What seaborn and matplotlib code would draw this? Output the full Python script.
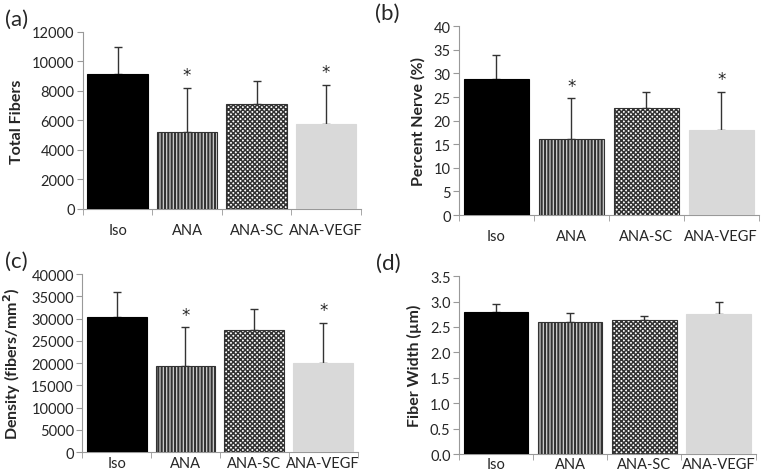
import pandas as pd
import matplotlib
matplotlib.use("Agg")
import matplotlib.pyplot as plt
import seaborn as sns

# data
groups = ["Iso", "ANA", "ANA-SC", "ANA-VEGF"]

total_fibers = [9150, 5200, 7100, 5750]
total_fibers_sd = [1850, 3000, 1600, 2650]

percent_nerve = [28.8, 16.1, 22.7, 18.1]
percent_nerve_sd = [5.2, 8.6, 3.3, 8.0]

density = [30400, 19400, 27400, 20000]
density_sd = [5700, 8700, 4700, 9100]

fiber_width = [2.80, 2.60, 2.63, 2.75]
fiber_width_sd = [0.16, 0.18, 0.08, 0.24]

significant = [False, True, False, True]

sns.set_style("white")
plt.rcParams['font.family'] = ['Lato', 'DejaVu Sans']
plt.rcParams['hatch.linewidth'] = 1.0

fig = plt.figure(figsize=(7.61, 4.77), dpi=100)

panels = [
    ("(a)", "Total Fibers", total_fibers, total_fibers_sd, range(0, 12001, 2000), "{:.0f}", True,
     [0.109, 0.560, 0.365, 0.371], 10),
    ("(b)", "Percent Nerve (%)", percent_nerve, percent_nerve_sd, range(0, 41, 5), "{:.0f}", True,
     [0.603, 0.547, 0.394, 0.396], 10),
    ("(c)", "Density (fibers/mm$^\\mathbf{2}$)", density, density_sd, range(0, 40001, 5000), "{:.0f}", True,
     [0.108, 0.050, 0.362, 0.373], 3),
    ("(d)", "Fiber Width (µm)", fiber_width, fiber_width_sd, [i * 0.5 for i in range(8)], "{:.1f}", False,
     [0.603, 0.046, 0.390, 0.373], 2),
]

fills = ["black", "#d0d0d0", "white", "#d9d9d9"]
hatches = [None, "|||||", "xxxxxxx", None]
hatch_lw = [1.0, 1.5, 1.1, 1.0]
edges = ["black", "#333333", "#333333", "#d9d9d9"]

for label, ylabel, vals, sds, yticks, fmt, stars, rect, xpad in panels:
    ax = fig.add_axes(rect)
    df = pd.DataFrame({"group": groups, "value": vals})
    sns.barplot(data=df, x="group", y="value", ax=ax, width=0.87, errorbar=None,
                color="white", saturation=1)
    for p, fc, h, ec, hl in zip(ax.patches, fills, hatches, edges, hatch_lw):
        p.set_facecolor(fc)
        p.set_edgecolor(ec)
        p.set_linewidth(0.8)
        if h:
            p.set_hatch(h)
            if hasattr(p, "set_hatch_linewidth"):
                p.set_hatch_linewidth(hl)
        p.set_zorder(3)
    ax.errorbar(range(len(groups)), vals, yerr=[[0] * len(sds), sds], fmt="none",
                ecolor="#333333", elinewidth=1.0, capsize=3, capthick=1.0, zorder=2)
    ytop = max(yticks)
    if stars:
        for i, (v, s, sig) in enumerate(zip(vals, sds, significant)):
            if sig:
                ax.text(i, v + s + ytop * 0.02, "*", ha="center", va="bottom", fontsize=12,
                        family="DejaVu Sans")

    ax.set_xlim(-0.5, len(groups) - 0.5)
    ax.set_ylim(0, ytop)
    ax.set_yticks(list(yticks))
    ax.set_yticklabels([fmt.format(t) for t in yticks], fontsize=10.5)
    ax.set_xticks(range(len(groups)))
    ax.set_xticklabels(groups, fontsize=10.5)
    ax.tick_params(axis="x", length=0, pad=xpad)
    ax.tick_params(axis="y", length=4, color="#999999", direction="out", left=True, pad=2)
    # excel style category separators
    ax.set_xticks([i + 0.5 for i in range(-1, len(groups))], minor=True)
    ax.tick_params(axis="x", which="minor", length=4, color="#999999", direction="out", bottom=True)
    ax.set_xlabel("")
    ax.set_ylabel(ylabel, fontsize=11.5, fontweight="bold", labelpad=6)
    for side in ["top", "right"]:
        ax.spines[side].set_visible(False)
    for side in ["left", "bottom"]:
        ax.spines[side].set_color("#999999")
        ax.spines[side].set_linewidth(0.8)
    ax.text(-0.28, 1.02, label, transform=ax.transAxes, fontsize=16, ha="left", va="bottom")

fig.savefig("out.png", dpi=100)
